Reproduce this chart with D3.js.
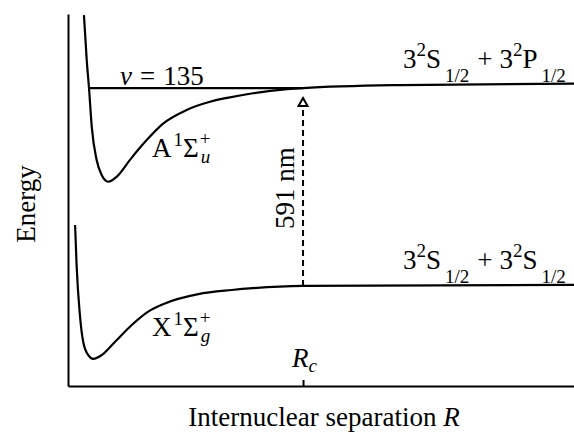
<!DOCTYPE html>
<html><head><meta charset="utf-8">
<script src="https://cdn.jsdelivr.net/npm/d3@7"></script>
<style>
html,body{margin:0;padding:0;background:#fff;}
</style></head>
<body><svg id="c" width="574" height="433" font-family="'Liberation Serif', 'DejaVu Serif', serif"></svg>
<script>
// Potential curve A^1Σu+ (R in arbitrary units, energy in arbitrary units)
const aR = [0.63, 0.74, 0.83, 0.94, 1.13, 1.33, 1.59, 1.93, 2.45, 3.11, 3.77, 4.69, 5.61, 6.40, 7.31, 8.66, 9.29, 13.1, 20];
const aE = [99.7, 87.6, 80.1, 69.6, 60.8, 56.7, 54.9, 56.3, 60.8, 66.1, 70.6, 74.2, 76.4, 77.6, 78.7, 79.8, 80.1, 80.9, 81.3];
// Potential curve X^1Σg+
const xR = [0.28, 0.34, 0.47, 0.60, 0.80, 1.00, 1.33, 1.86, 2.52, 3.17, 3.83, 5.15, 6.47, 7.31, 9.29, 20];
const xE = [43.3, 32.5, 19.1, 11.9, 8.3, 7.3, 8.3, 11.9, 16.4, 20.0, 22.2, 24.7, 25.8, 26.3, 26.9, 27.2];
// Vibrational level v = 135 and transition at Rc
const vLevel = 80.1, vStart = 0.83;
const Rc = 9.29, arrowFrom = 26.9, arrowTo = 77.4;

const FONT = "'Liberation Serif', 'DejaVu Serif', serif";
const svg = d3.select("#c");
const x = d3.scaleLinear().domain([0, 20]).range([68, 574]);
const y = d3.scaleLinear().domain([0, 100]).range([386, 14]);

// axes
svg.append("g").attr("transform", `translate(${x(0)},0)`)
  .call(d3.axisLeft(y).tickValues([]).tickSizeOuter(0));
const gx = svg.append("g").attr("transform", `translate(0,${y(0)})`)
  .call(d3.axisBottom(x).tickValues([Rc]).tickSizeInner(-6).tickSizeOuter(0).tickFormat(""));
svg.selectAll(".domain").attr("stroke", "#000").attr("stroke-width", 2);
gx.selectAll(".tick line").attr("stroke", "#000").attr("stroke-width", 2);

const line = d3.line().x(d => x(d[0])).y(d => y(d[1])).curve(d3.curveMonotoneX);
svg.append("path").datum(d3.zip(aR, aE)).attr("d", line)
  .attr("fill", "none").attr("stroke", "#000").attr("stroke-width", 2.2);
svg.append("path").datum(d3.zip(xR, xE)).attr("d", line)
  .attr("fill", "none").attr("stroke", "#000").attr("stroke-width", 2.2);
// v = 135 level
svg.append("line").attr("x1", x(vStart)).attr("x2", x(Rc)).attr("y1", y(vLevel)).attr("y2", y(vLevel))
  .attr("stroke", "#000").attr("stroke-width", 2.2);
// dashed arrow
svg.append("line").attr("x1", x(Rc)).attr("x2", x(Rc)).attr("y1", y(arrowFrom)).attr("y2", y(arrowTo) + 6)
  .attr("stroke", "#000").attr("stroke-width", 2).attr("stroke-dasharray", "6,4");
const tx = x(Rc), ty = y(arrowTo);
svg.append("path").attr("d", `M${tx},${ty} L${tx - 4.5},${ty + 8} L${tx + 4.5},${ty + 8} Z`)
  .attr("fill", "#fff").attr("stroke", "#000").attr("stroke-width", 2).attr("stroke-linejoin", "miter");

// labels
const fs = 27, sfs = 19;
function t(xp, yp) {
  return svg.append("text").attr("x", xp).attr("y", yp).attr("font-size", fs)
    .attr("font-family", FONT).attr("fill", "#000");
}

const v = t(120, 85);
v.append("tspan").attr("font-style", "italic").text("v");
v.append("tspan").attr("dx", 8).text("=");
v.append("tspan").attr("dx", 8).text("135");

function molLabel(xp, yp, letter, sub) {
  const g = t(xp, yp);
  g.append("tspan").text(letter);
  g.append("tspan").attr("font-size", sfs).attr("dy", -11).attr("dx", 2).text("1");
  g.append("tspan").attr("dy", 11).text("Σ");
  const bb = g.node().getBBox();
  const end = bb.x + bb.width;
  svg.append("text").attr("x", end + 1).attr("y", yp - 12).attr("font-size", sfs)
    .attr("font-family", FONT).text("+");
  svg.append("text").attr("x", end + 2).attr("y", yp + 6).attr("font-size", sfs)
    .attr("font-family", FONT).attr("font-style", "italic").text(sub);
}
molLabel(152, 157, "A", "u");
molLabel(152, 336, "X", "g");

function atomLabel(xp, yp, second) {
  const g = t(xp, yp);
  g.append("tspan").text("3");
  g.append("tspan").attr("font-size", sfs).attr("dy", -12).text("2");
  g.append("tspan").attr("dy", 12).text("S");
  g.append("tspan").attr("font-size", sfs).attr("dy", 14).attr("dx", 4).text("1/2");
  g.append("tspan").attr("dy", -14).attr("dx", 8).text("+");
  g.append("tspan").attr("dx", 7).text("3");
  g.append("tspan").attr("font-size", sfs).attr("dy", -12).text("2");
  g.append("tspan").attr("dy", 12).text(second);
  g.append("tspan").attr("font-size", sfs).attr("dy", 14).attr("dx", 4).text("1/2");
}
atomLabel(403, 68, "P");
atomLabel(403, 269, "S");

svg.append("text").attr("transform", "translate(294,188) rotate(-90)").attr("text-anchor", "middle")
  .attr("font-size", fs).attr("font-family", FONT).text("591 nm");
svg.append("text").attr("transform", "translate(35,204) rotate(-90)").attr("text-anchor", "middle")
  .attr("font-size", fs).attr("font-family", FONT).text("Energy");

const xl = t(324, 426).attr("text-anchor", "middle");
xl.append("tspan").text("Internuclear separation ");
xl.append("tspan").attr("font-style", "italic").text("R");

const rc = t(292, 367);
rc.append("tspan").attr("font-style", "italic").text("R");
rc.append("tspan").attr("font-style", "italic").attr("font-size", sfs).attr("dy", 5).text("c");
</script></body></html>
